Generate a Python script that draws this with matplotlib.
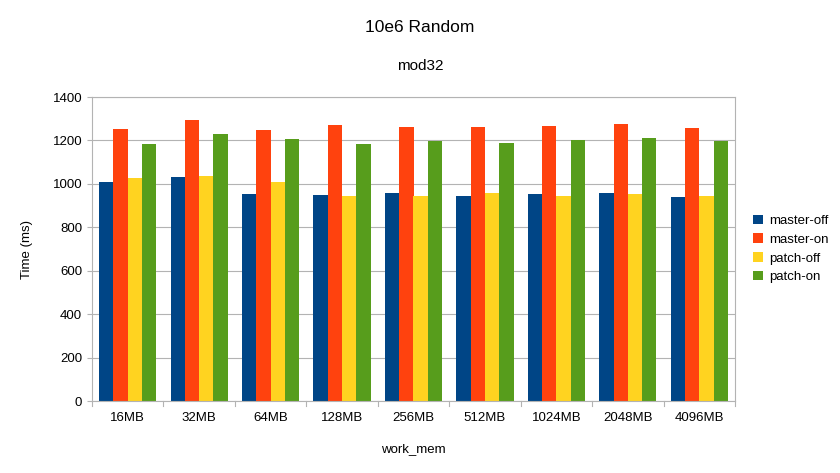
import numpy as np
from matplotlib import pyplot as plt

plt.rcParams["font.family"] = "Liberation Sans"

categories = ["16MB", "32MB", "64MB", "128MB", "256MB", "512MB", "1024MB", "2048MB", "4096MB"]
master_off = [1008, 1030, 953, 948, 958, 945, 952, 957, 938]
master_on = [1252, 1292, 1247, 1272, 1260, 1263, 1265, 1275, 1257]
patch_off = [1028, 1038, 1010, 945, 945, 957, 942, 955, 945]
patch_on = [1182, 1230, 1205, 1185, 1198, 1188, 1202, 1213, 1198]

series = [("master-off", master_off, "#004586"),
          ("master-on", master_on, "#ff420e"),
          ("patch-off", patch_off, "#ffd320"),
          ("patch-on", patch_on, "#579d1c")]

fig = plt.figure(figsize=(8.4, 4.73), dpi=100)
ax = fig.add_axes([92/840, 1-401/473, (735-92)/840, (401-97)/473])

x = np.arange(len(categories))
w = 0.2
for i, (name, vals, col) in enumerate(series):
    ax.bar(x + (i - 1.5) * w, vals, w, color=col, label=name, zorder=2)

ax.set_xlim(-0.5, len(categories) - 0.5)
ax.set_ylim(0, 1400)
ax.set_yticks(range(0, 1401, 200))
ax.set_xticks(x)
ax.set_xticklabels(categories)
ax.yaxis.grid(True, color="#b3b3b3", linewidth=0.8, zorder=0)
for s in ax.spines.values():
    s.set_color("#b3b3b3")
ax.tick_params(axis="both", colors="#b3b3b3", labelcolor="black", labelsize=9.5)
ax.tick_params(axis="x", length=0, pad=8)
# group separator ticks
for b in np.arange(-0.5, len(categories), 1.0):
    ax.plot([b, b], [0, -25], color="#b3b3b3", lw=0.8, clip_on=False)
ax.set_xlabel("work_mem", fontsize=9.5, labelpad=14)
ax.set_ylabel("Time (ms)", fontsize=9.5, labelpad=14)

fig.text(0.5, 1-28/473, "10e6 Random", ha="center", va="center", fontsize=12.5)
fig.text(0.5, 1-66/473, "mod32", ha="center", va="center", fontsize=11)

ax.legend(loc="center left", bbox_to_anchor=(1.01, 0.5), frameon=False,
          fontsize=9.5, handlelength=0.7, handleheight=0.7, handletextpad=0.5,
          labelspacing=0.5)

fig.savefig("out.png", dpi=100)
